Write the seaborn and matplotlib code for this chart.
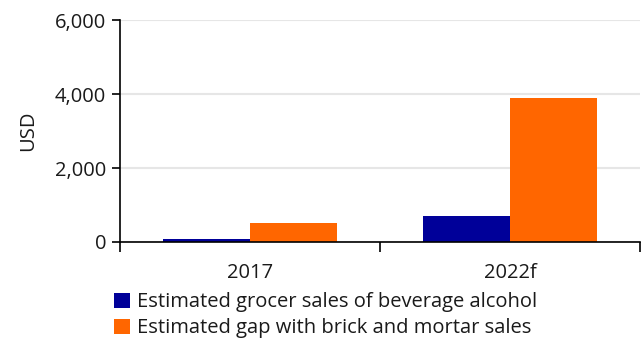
import pandas as pd
import matplotlib.pyplot as plt
import seaborn as sns
from matplotlib.patches import Patch

# values
years = ["2017", "2022f"]
grocer_sales = [75, 700]
gap_sales = [500, 3900]
series_names = ["Estimated grocer sales of beverage alcohol",
                "Estimated gap with brick and mortar sales"]
colors = ["#000099", "#FF6600"]

df = pd.DataFrame({
    "year": years * 2,
    "value": grocer_sales + gap_sales,
    "series": [series_names[0]] * 2 + [series_names[1]] * 2,
})

sns.set_theme(style="white")
plt.rcParams['font.family'] = ['Open Sans', 'DejaVu Sans']
plt.rcParams['text.color'] = '#1a1a1a'
fs = 14.5

fig = plt.figure(figsize=(6.43, 3.42), dpi=100)
ax = fig.add_axes([0.1866, 0.2924, 0.8087, 0.6491])

sns.barplot(data=df, x="year", y="value", hue="series", palette=colors,
            width=0.67, gap=0, saturation=1, linewidth=0, ax=ax, legend=False)

ax.set_xlim(-0.5, 1.5)
ax.set_ylim(0, 6000)
ax.set_yticks([0, 2000, 4000, 6000])
ax.set_yticklabels([f"{v:,}" for v in [0, 2000, 4000, 6000]])
ax.yaxis.grid(True, color="#e6e6e6", linewidth=1.5)
ax.set_axisbelow(True)

ax.set_xlabel("")
ax.set_ylabel("USD", fontsize=fs, color="#1a1a1a", labelpad=12)

for s in ["top", "right"]:
    ax.spines[s].set_visible(False)
for s in ["left", "bottom"]:
    ax.spines[s].set_color("black")
    ax.spines[s].set_linewidth(1.2)

ax.tick_params(axis="y", left=True, length=6, width=1.2, color="black",
               labelsize=fs, labelcolor="#1a1a1a", pad=4)
ax.tick_params(axis="x", which="major", bottom=False, labelsize=fs,
               labelcolor="#1a1a1a", pad=9)
ax.set_xticks([-0.5, 0.5, 1.5], minor=True)
ax.tick_params(axis="x", which="minor", bottom=True, length=7, width=1.2,
               color="black")

handles = [Patch(facecolor=c, edgecolor="none") for c in colors]
fig.legend(handles, series_names, loc="upper left", bbox_to_anchor=(0.178, 0.145),
           frameon=False, fontsize=fs, handlelength=0.75, handleheight=0.75,
           handletextpad=0.35, labelspacing=0.3, borderaxespad=0, borderpad=0)

fig.savefig("out.png", dpi=100)
